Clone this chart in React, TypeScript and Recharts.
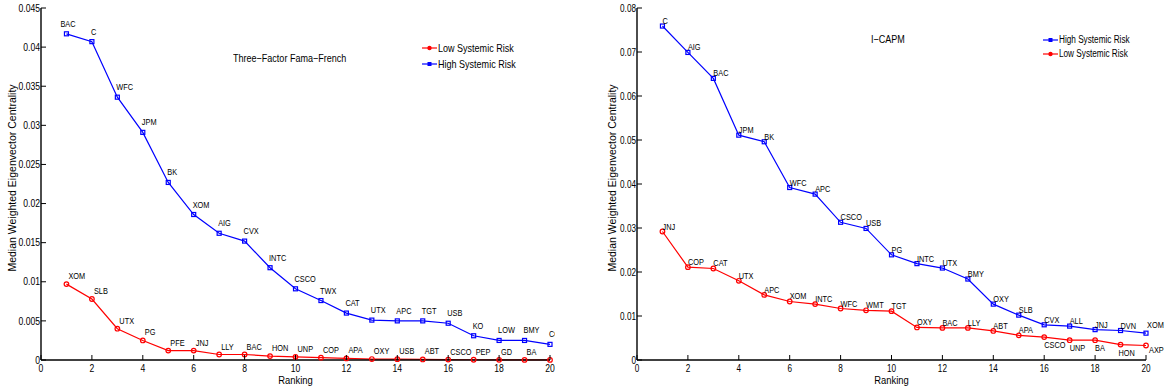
import { LineChart, Line, XAxis, YAxis, LabelList, Legend } from 'recharts';

// rankings 1..20
const ranking = [1, 2, 3, 4, 5, 6, 7, 8, 9, 10, 11, 12, 13, 14, 15, 16, 17, 18, 19, 20];
const xTicks = [0, 2, 4, 6, 8, 10, 12, 14, 16, 18, 20];

// Three-Factor Fama-French
const ffHighNames = ['BAC', 'C', 'WFC', 'JPM', 'BK', 'XOM', 'AIG', 'CVX', 'INTC', 'CSCO', 'TWX', 'CAT', 'UTX', 'APC', 'TGT', 'USB', 'KO', 'LOW', 'BMY', 'COF'];
const ffHighValues = [0.0417, 0.0407, 0.0336, 0.0291, 0.0227, 0.0186, 0.0162, 0.0152, 0.0118, 0.0091, 0.0076, 0.006, 0.0051, 0.005, 0.005, 0.0047, 0.0031, 0.0025, 0.0025, 0.002];
const ffLowNames = ['XOM', 'SLB', 'UTX', 'PG', 'PFE', 'JNJ', 'LLY', 'BAC', 'HON', 'UNP', 'COP', 'APA', 'OXY', 'USB', 'ABT', 'CSCO', 'PEP', 'GD', 'BA', ''];
const ffLowValues = [0.0097, 0.0078, 0.004, 0.0025, 0.0012, 0.0012, 0.0007, 0.0007, 0.0005, 0.0004, 0.0003, 0.0002, 0.00012, 0.0001, 0.00007, 0.00005, 0.00003, 0.00002, 0.00001, 0.00001];
const ffTicks = [0, 0.005, 0.01, 0.015, 0.02, 0.025, 0.03, 0.035, 0.04, 0.045];

// I-CAPM
const icHighNames = ['C', 'AIG', 'BAC', 'JPM', 'BK', 'WFC', 'APC', 'CSCO', 'USB', 'PG', 'INTC', 'UTX', 'BMY', 'OXY', 'SLB', 'CVX', 'ALL', 'JNJ', 'DVN', 'XOM'];
const icHighValues = [0.0759, 0.0699, 0.064, 0.0511, 0.0496, 0.0392, 0.0377, 0.0313, 0.0299, 0.0239, 0.0219, 0.0209, 0.0184, 0.0127, 0.0102, 0.008, 0.0077, 0.0069, 0.0067, 0.0061];
const icLowNames = ['JNJ', 'COP', 'CAT', 'UTX', 'APC', 'XOM', 'INTC', 'WFC', 'WMT', 'TGT', 'OXY', 'BAC', 'LLY', 'ABT', 'APA', 'CSCO', 'UNP', 'BA', 'HON', 'AXP'];
const icLowValues = [0.0292, 0.0211, 0.0208, 0.018, 0.0148, 0.0133, 0.0127, 0.0117, 0.0113, 0.0111, 0.0074, 0.0073, 0.0073, 0.0066, 0.0056, 0.0052, 0.0045, 0.0045, 0.0035, 0.0033];
const icTicks = [0, 0.01, 0.02, 0.03, 0.04, 0.05, 0.06, 0.07, 0.08];

const FONT = "'Liberation Sans', Arial, Helvetica, sans-serif";
const SQUEEZE = 0.82; // matlab's helvetica looks condensed
const BLUE = '#0000ff';
const RED = '#ff0000';
const HIGH = 'High Systemic Risk';
const LOW = 'Low Systemic Risk';

// condensed svg text
const NText = ({ x, y, size, anchor = 'start', dy, children }: any) => (
  <text
    transform={`translate(${x} ${y}) scale(${SQUEEZE} 1)`}
    x={0}
    y={0}
    dy={dy}
    textAnchor={anchor}
    fontSize={size}
    fontFamily={FONT}
    fill="#000"
  >
    {children}
  </text>
);

const squareDot = (p: any) => (
  <rect key={`s${p.index}`} x={p.cx - 2} y={p.cy - 2} width={4} height={4} fill="none" stroke={BLUE} strokeWidth={1.2} />
);
const circleDot = (p: any) => (
  <circle key={`c${p.index}`} cx={p.cx} cy={p.cy} r={2.3} fill="none" stroke={RED} strokeWidth={1.2} />
);

// point label, offset picked per panel/series
const nameLabel = (place: (i: number) => [number, number]) => (p: any) => {
  const x = p.x ?? p.viewBox?.x;
  const y = p.y ?? p.viewBox?.y;
  if (!p.value) return null;
  const [dx, dy] = place(p.index);
  return (
    <NText x={x + dx} y={y + dy} size={9}>
      {p.value}
    </NText>
  );
};

const LegendBox = ({ items, rowH, fontSize }: { items: { name: string; color: string }[]; rowH: number; fontSize: number }) => (
  <div style={{ fontFamily: FONT, fontSize, lineHeight: `${rowH}px`, color: '#000' }}>
    {items.map((it) => (
      <div key={it.name} style={{ display: 'flex', alignItems: 'center', whiteSpace: 'nowrap' }}>
        <svg width={15} height={rowH} style={{ display: 'block' }}>
          <line x1={0} x2={15} y1={rowH / 2} y2={rowH / 2} stroke={it.color} strokeWidth={1.2} />
          {it.color === BLUE ? (
            <rect x={5.5} y={rowH / 2 - 2} width={4} height={4} fill={BLUE} />
          ) : (
            <circle cx={7.5} cy={rowH / 2} r={2.2} fill={RED} />
          )}
        </svg>
        <span style={{ marginLeft: 1, display: 'inline-block', transform: `scaleX(${SQUEEZE})`, transformOrigin: 'left center' }}>
          {it.name}
        </span>
      </div>
    ))}
  </div>
);

interface PanelProps {
  left: number;
  clipWidth: number;
  chartWidth: number;
  highValues: number[];
  highNames: string[];
  lowValues: number[];
  lowNames: string[];
  yTicks: number[];
  tickFont: number;
  yLabelX: number;
  title: string;
  titleX: number;
  titleY: number;
  legendItems: { name: string; color: string }[];
  legendX: number;
  legendY: number;
  legendRow: number;
  legendFont: number;
  highPlace: (i: number) => [number, number];
  lowPlace: (i: number) => [number, number];
}

function Panel(p: PanelProps) {
  const data = ranking.map((r, i) => ({
    rank: r,
    high: p.highValues[i],
    low: p.lowValues[i],
    highName: p.highNames[i],
    lowName: p.lowNames[i],
  }));
  const yMax = p.yTicks[p.yTicks.length - 1];
  const PLOT_W = 509;
  const marginRight = p.chartWidth - 41 - PLOT_W;

  return (
    <div style={{ position: 'absolute', left: p.left, top: 0, width: p.clipWidth, height: 390, overflow: 'hidden' }}>
      <LineChart width={p.chartWidth} height={390} data={data} margin={{ top: 8, right: marginRight, bottom: 0, left: 0 }}>
        <XAxis
          dataKey="rank"
          type="number"
          domain={[0, 20]}
          ticks={xTicks}
          height={30}
          tickSize={0}
          tickMargin={0}
          tickLine={false}
          axisLine={{ stroke: '#000', strokeWidth: 1.6 }}
          interval={0}
          tick={(t: any) => (
            <g>
              <line x1={t.x} x2={t.x} y1={t.y} y2={t.y - 5} stroke="#000" />
              <NText x={t.x} y={t.y + 12} anchor="middle" size={p.tickFont}>
                {t.payload.value}
              </NText>
            </g>
          )}
          label={{
            content: (lp: any) => (
              <NText x={lp.viewBox.x + lp.viewBox.width / 2} y={lp.viewBox.y + 24} anchor="middle" size={11.5}>
                Ranking
              </NText>
            ),
          }}
        />
        <XAxis
          xAxisId="top"
          orientation="top"
          type="number"
          domain={[0, 20]}
          ticks={xTicks}
          height={0}
          tickSize={0}
          tickMargin={0}
          tickLine={false}
          interval={0}
          axisLine={{ stroke: '#000', strokeWidth: 1 }}
          tick={(t: any) => <line x1={t.x} x2={t.x} y1={t.y} y2={t.y + 5} stroke="#000" />}
        />
        <YAxis
          yAxisId="left"
          type="number"
          domain={[0, yMax]}
          ticks={p.yTicks}
          width={41}
          tickSize={0}
          tickMargin={0}
          tickLine={false}
          interval={0}
          axisLine={{ stroke: '#000', strokeWidth: 1.4 }}
          tick={(t: any) => (
            <g>
              <line x1={t.x} x2={t.x + 5} y1={t.y} y2={t.y} stroke="#000" />
              <NText x={t.x - 1} y={t.y} dy="0.35em" anchor="end" size={p.tickFont}>
                {t.payload.value}
              </NText>
            </g>
          )}
          label={{
            content: (lp: any) => (
              <text
                transform={`translate(${lp.viewBox.x + p.yLabelX} ${lp.viewBox.y + lp.viewBox.height / 2 - 6}) rotate(-90)`}
                textAnchor="middle"
                dy="0.35em"
                fontSize={10.5}
                fontFamily={FONT}
                fill="#000"
              >
                Median Weighted Eigenvector Centrality
              </text>
            ),
          }}
        />
        <YAxis
          yAxisId="right"
          orientation="right"
          type="number"
          domain={[0, yMax]}
          ticks={p.yTicks}
          width={0}
          tickSize={0}
          tickMargin={0}
          tickLine={false}
          interval={0}
          axisLine={{ stroke: '#000', strokeWidth: 1 }}
          tick={(t: any) => <line x1={t.x} x2={t.x - 5} y1={t.y} y2={t.y} stroke="#000" />}
        />
        <Legend
          layout="horizontal"
          verticalAlign="middle"
          align="center"
          wrapperStyle={{ top: p.legendY, left: p.legendX, width: 'auto', height: 'auto' }}
          content={() => <LegendBox items={p.legendItems} rowH={p.legendRow} fontSize={p.legendFont} />}
        />
        <Line
          yAxisId="left"
          dataKey="high"
          name={HIGH}
          stroke={BLUE}
          strokeWidth={1.2}
          dot={squareDot}
          activeDot={false}
          isAnimationActive={false}
        >
          <LabelList dataKey="highName" content={nameLabel(p.highPlace)} />
        </Line>
        <Line
          yAxisId="left"
          dataKey="low"
          name={LOW}
          stroke={RED}
          strokeWidth={1.2}
          dot={circleDot}
          activeDot={false}
          isAnimationActive={false}
        >
          <LabelList dataKey="lowName" content={nameLabel(p.lowPlace)} />
        </Line>
      </LineChart>
      <div
        style={{
          position: 'absolute',
          left: p.titleX,
          top: p.titleY - 7,
          fontFamily: FONT,
          fontSize: 11,
          lineHeight: '14px',
          whiteSpace: 'nowrap',
          color: '#000',
          transform: `scaleX(${SQUEEZE})`,
          transformOrigin: 'left center',
        }}
      >
        {p.title}
      </div>
    </div>
  );
}

export default function App() {
  return (
    <div style={{ position: 'absolute', left: 0, top: 0, width: 1165, height: 390, background: '#fff' }}>
      <Panel
        left={0}
        clipWidth={555}
        chartWidth={570}
        highValues={ffHighValues}
        highNames={ffHighNames}
        lowValues={ffLowValues}
        lowNames={ffLowNames}
        yTicks={ffTicks}
        tickFont={10.5}
        yLabelX={12}
        title="Three−Factor Fama−French"
        titleX={233}
        titleY={58}
        legendItems={[
          { name: LOW, color: RED },
          { name: HIGH, color: BLUE },
        ]}
        legendX={422}
        legendY={40}
        legendRow={16}
        legendFont={11}
        highPlace={(i) => [i === 0 ? -6 : -1, -7]}
        lowPlace={() => [2, -5]}
      />
      <Panel
        left={596}
        clipWidth={569}
        chartWidth={569}
        highValues={icHighValues}
        highNames={icHighNames}
        lowValues={icLowValues}
        lowNames={icLowNames}
        yTicks={icTicks}
        tickFont={10}
        yLabelX={16}
        title="I−CAPM"
        titleX={275}
        titleY={39}
        legendItems={[
          { name: HIGH, color: BLUE },
          { name: LOW, color: RED },
        ]}
        legendX={447}
        legendY={33}
        legendRow={14}
        legendFont={10}
        highPlace={(i) => (i === 19 ? [1, -5] : [0, -2])}
        lowPlace={(i) => (i === 19 ? [3, 8] : i >= 15 ? [i === 18 ? -2 : 0, 11] : [0, -2])}
      />
    </div>
  );
}
